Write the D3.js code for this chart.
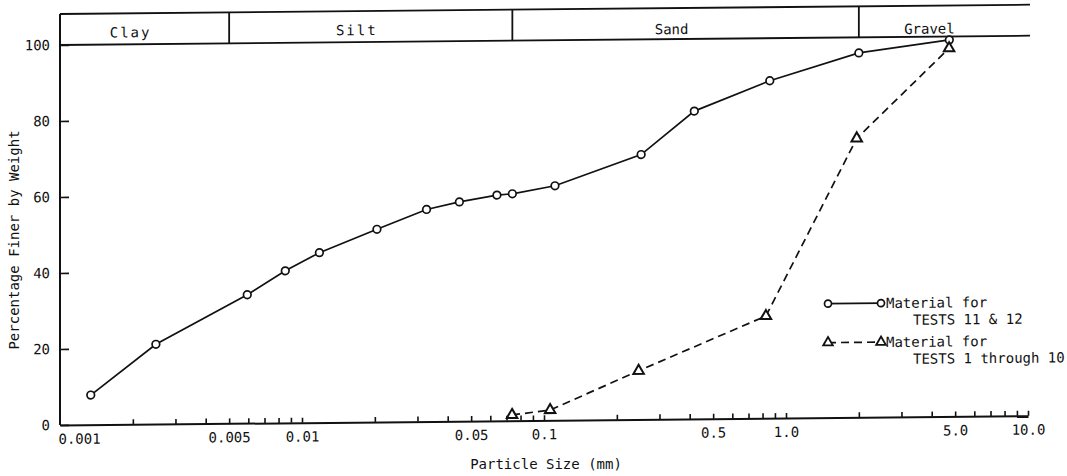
<!DOCTYPE html>
<html>
<head>
<meta charset="utf-8">
<script src="https://cdn.jsdelivr.net/npm/d3@7"></script>
<style>
  html, body { margin: 0; padding: 0; background: #fff; }
  svg { display: block; font-family: "DejaVu Sans Mono", "Liberation Mono", monospace; }
</style>
</head>
<body>
<script>
// Grain-size distribution: particle size (mm) vs percentage finer by weight
const sizeTests11and12 = [0.00134, 0.00249, 0.00594, 0.00853, 0.0118, 0.0204, 0.0327, 0.0447, 0.0639, 0.074, 0.111, 0.252, 0.418, 0.857, 2.0, 4.73];
const finerTests11and12 = [7.8, 21.0, 33.8, 40.0, 44.7, 50.7, 55.8, 57.7, 59.4, 59.7, 61.7, 69.7, 81.0, 88.8, 95.9, 99.1];

const sizeTests1to10 = [0.0738, 0.106, 0.246, 0.826, 1.96, 4.72];
const finerTests1to10 = [1.5, 2.7, 12.8, 26.9, 73.4, 96.9];

// soil classes across the top band and their size limits (mm)
const soilClasses = ["Clay", "Silt", "Sand", "Gravel"];
const classLimits = [0.001, 0.005, 0.074, 2.0, 10];

// labelled x ticks and their text
const xLabelValues = [0.001, 0.005, 0.01, 0.05, 0.1, 0.5, 1, 5, 10];
const xLabelText = ["0.001", "0.005", "0.01", "0.05", "0.1", "0.5", "1.0", "5.0", "10.0"];
const yTickValues = [0, 20, 40, 60, 80, 100];

const legendLabels = [["Material for", "TESTS 11 & 12"], ["Material for", "TESTS 1 through 10"]];

const W = 1067, H = 476;
const FONT = 14;

const svg = d3.select("body").append("svg").attr("width", W).attr("height", H);

const x = d3.scaleLog().domain([0.001, 10]).range([60, 1028]);
const y = d3.scaleLinear().domain([0, 100]).range([425, 45]);

// the plotted sheet sits with a slight upward tilt to the right
const tilt = -0.55;
const k = Math.tan(tilt * Math.PI / 180);
const g = svg.append("g").attr("transform", `translate(0,${-k * 60}) skewY(${tilt})`);

// minor ticks at every 1..9 multiple of each decade
const decades = [0.001, 0.01, 0.1, 1];
const minorTicks = [];
decades.forEach(dec => { for (let m = 1; m <= 9; m++) minorTicks.push(+(m * dec).toPrecision(3)); });
minorTicks.push(10);

function labelFor(d) {
  const i = xLabelValues.findIndex(v => Math.abs(Math.log10(v) - Math.log10(d)) < 1e-6);
  return i < 0 ? "" : xLabelText[i];
}

// x axis
const xAxis = g.append("g")
  .attr("transform", `translate(0,${y(0)})`)
  .call(d3.axisBottom(x).tickValues(minorTicks).tickSizeInner(-5).tickSizeOuter(0).tickPadding(9).tickFormat(labelFor));
xAxis.select(".domain").attr("stroke", "#111").attr("stroke-width", 2);
xAxis.selectAll(".tick line").attr("stroke", "#111").attr("stroke-width", 1.6)
  .filter(d => d === 0.001).remove();
xAxis.selectAll(".tick text")
  .attr("fill", "#111").attr("font-size", FONT).attr("font-family", "DejaVu Sans Mono")
  .filter(d => d === 0.001).attr("text-anchor", "start").attr("dx", -2);

// y axis
const yAxis = g.append("g")
  .attr("transform", `translate(${x(0.001)},0)`)
  .call(d3.axisLeft(y).tickValues(yTickValues).tickSizeInner(-9).tickSizeOuter(0).tickPadding(10));
yAxis.select(".domain").remove();
yAxis.selectAll(".tick line").attr("stroke", "#111").attr("stroke-width", 1.6);
yAxis.selectAll(".tick text").attr("fill", "#111").attr("font-size", FONT).attr("font-family", "DejaVu Sans Mono");

// soil-class band above the 100% line
const bandTop = 14;
g.append("line").attr("x1", x(0.001)).attr("x2", x(0.001)).attr("y1", y(0)).attr("y2", bandTop)
  .attr("stroke", "#111").attr("stroke-width", 2);
g.append("line").attr("x1", x(0.001)).attr("x2", x(10) + 2).attr("y1", bandTop).attr("y2", bandTop)
  .attr("stroke", "#111").attr("stroke-width", 1.8);
g.append("line").attr("x1", x(0.001)).attr("x2", x(10) + 2).attr("y1", y(100)).attr("y2", y(100))
  .attr("stroke", "#111").attr("stroke-width", 1.8);
g.selectAll(".divider").data(classLimits.slice(1, -1)).join("line")
  .attr("class", "divider")
  .attr("x1", d => x(d)).attr("x2", d => x(d))
  .attr("y1", bandTop).attr("y2", y(100))
  .attr("stroke", "#111").attr("stroke-width", 1.8);
const labelBaseline = [38, 38, 40, 42];
g.selectAll(".classLabel").data(soilClasses).join("text")
  .attr("class", "classLabel")
  .attr("x", (d, i) => (x(classLimits[i]) + x(classLimits[i + 1])) / 2 - 14)
  .attr("y", (d, i) => labelBaseline[i])
  .attr("text-anchor", "middle")
  .attr("font-size", FONT)
  .attr("letter-spacing", (d, i) => i < 2 ? 2 : 0)
  .attr("fill", "#111")
  .text(d => d);

// axis titles
svg.append("text")
  .attr("x", 546).attr("y", 469)
  .attr("text-anchor", "middle").attr("font-size", FONT).attr("fill", "#111")
  .text("Particle Size (mm)");
svg.append("text")
  .attr("transform", "translate(19,240) rotate(-90)")
  .attr("text-anchor", "middle").attr("font-size", FONT).attr("fill", "#111")
  .text("Percentage Finer by Weight");

// curves
const seriesA = sizeTests11and12.map((s, i) => [s, finerTests11and12[i]]);
const seriesB = sizeTests1to10.map((s, i) => [s, finerTests1to10[i]]);
const line = d3.line().x(d => x(d[0])).y(d => y(d[1]));

g.append("path").datum(seriesA).attr("d", line)
  .attr("fill", "none").attr("stroke", "#111").attr("stroke-width", 1.7);
g.append("path").datum(seriesB).attr("d", line)
  .attr("fill", "none").attr("stroke", "#111").attr("stroke-width", 1.7).attr("stroke-dasharray", "8,5");

const tri = d3.symbol(d3.symbolTriangle, 48);

g.selectAll(".ptA").data(seriesA).join("circle")
  .attr("class", "ptA")
  .attr("cx", d => x(d[0])).attr("cy", d => y(d[1])).attr("r", 3.8)
  .attr("fill", "#fff").attr("stroke", "#111").attr("stroke-width", 1.7);
g.selectAll(".ptB").data(seriesB).join("path")
  .attr("class", "ptB")
  .attr("transform", d => `translate(${x(d[0])},${y(d[1])})`)
  .attr("d", tri)
  .attr("fill", "#fff").attr("stroke", "#111").attr("stroke-width", 2);

// legend
const lg = g.append("g");
const rowA = 311, rowB = 350;
lg.append("line").attr("x1", 828).attr("x2", 881).attr("y1", rowA).attr("y2", rowA)
  .attr("stroke", "#111").attr("stroke-width", 1.7);
[828, 881].forEach(cx => lg.append("circle").attr("cx", cx).attr("cy", rowA).attr("r", 3.5)
  .attr("fill", "#fff").attr("stroke", "#111").attr("stroke-width", 1.7));
lg.append("line").attr("x1", 828).attr("x2", 881).attr("y1", rowB).attr("y2", rowB)
  .attr("stroke", "#111").attr("stroke-width", 1.7).attr("stroke-dasharray", "8,5");
[828, 881].forEach(cx => lg.append("path").attr("transform", `translate(${cx},${rowB})`).attr("d", d3.symbol(d3.symbolTriangle, 40))
  .attr("fill", "#fff").attr("stroke", "#111").attr("stroke-width", 1.8));
[rowA, rowB].forEach((r, i) => {
  lg.append("text").attr("x", 886).attr("y", r + 5).attr("font-size", FONT).attr("fill", "#111").text(legendLabels[i][0]);
  lg.append("text").attr("x", 913).attr("y", r + 22).attr("font-size", FONT).attr("fill", "#111").text(legendLabels[i][1]);
});
</script>
</body>
</html>
